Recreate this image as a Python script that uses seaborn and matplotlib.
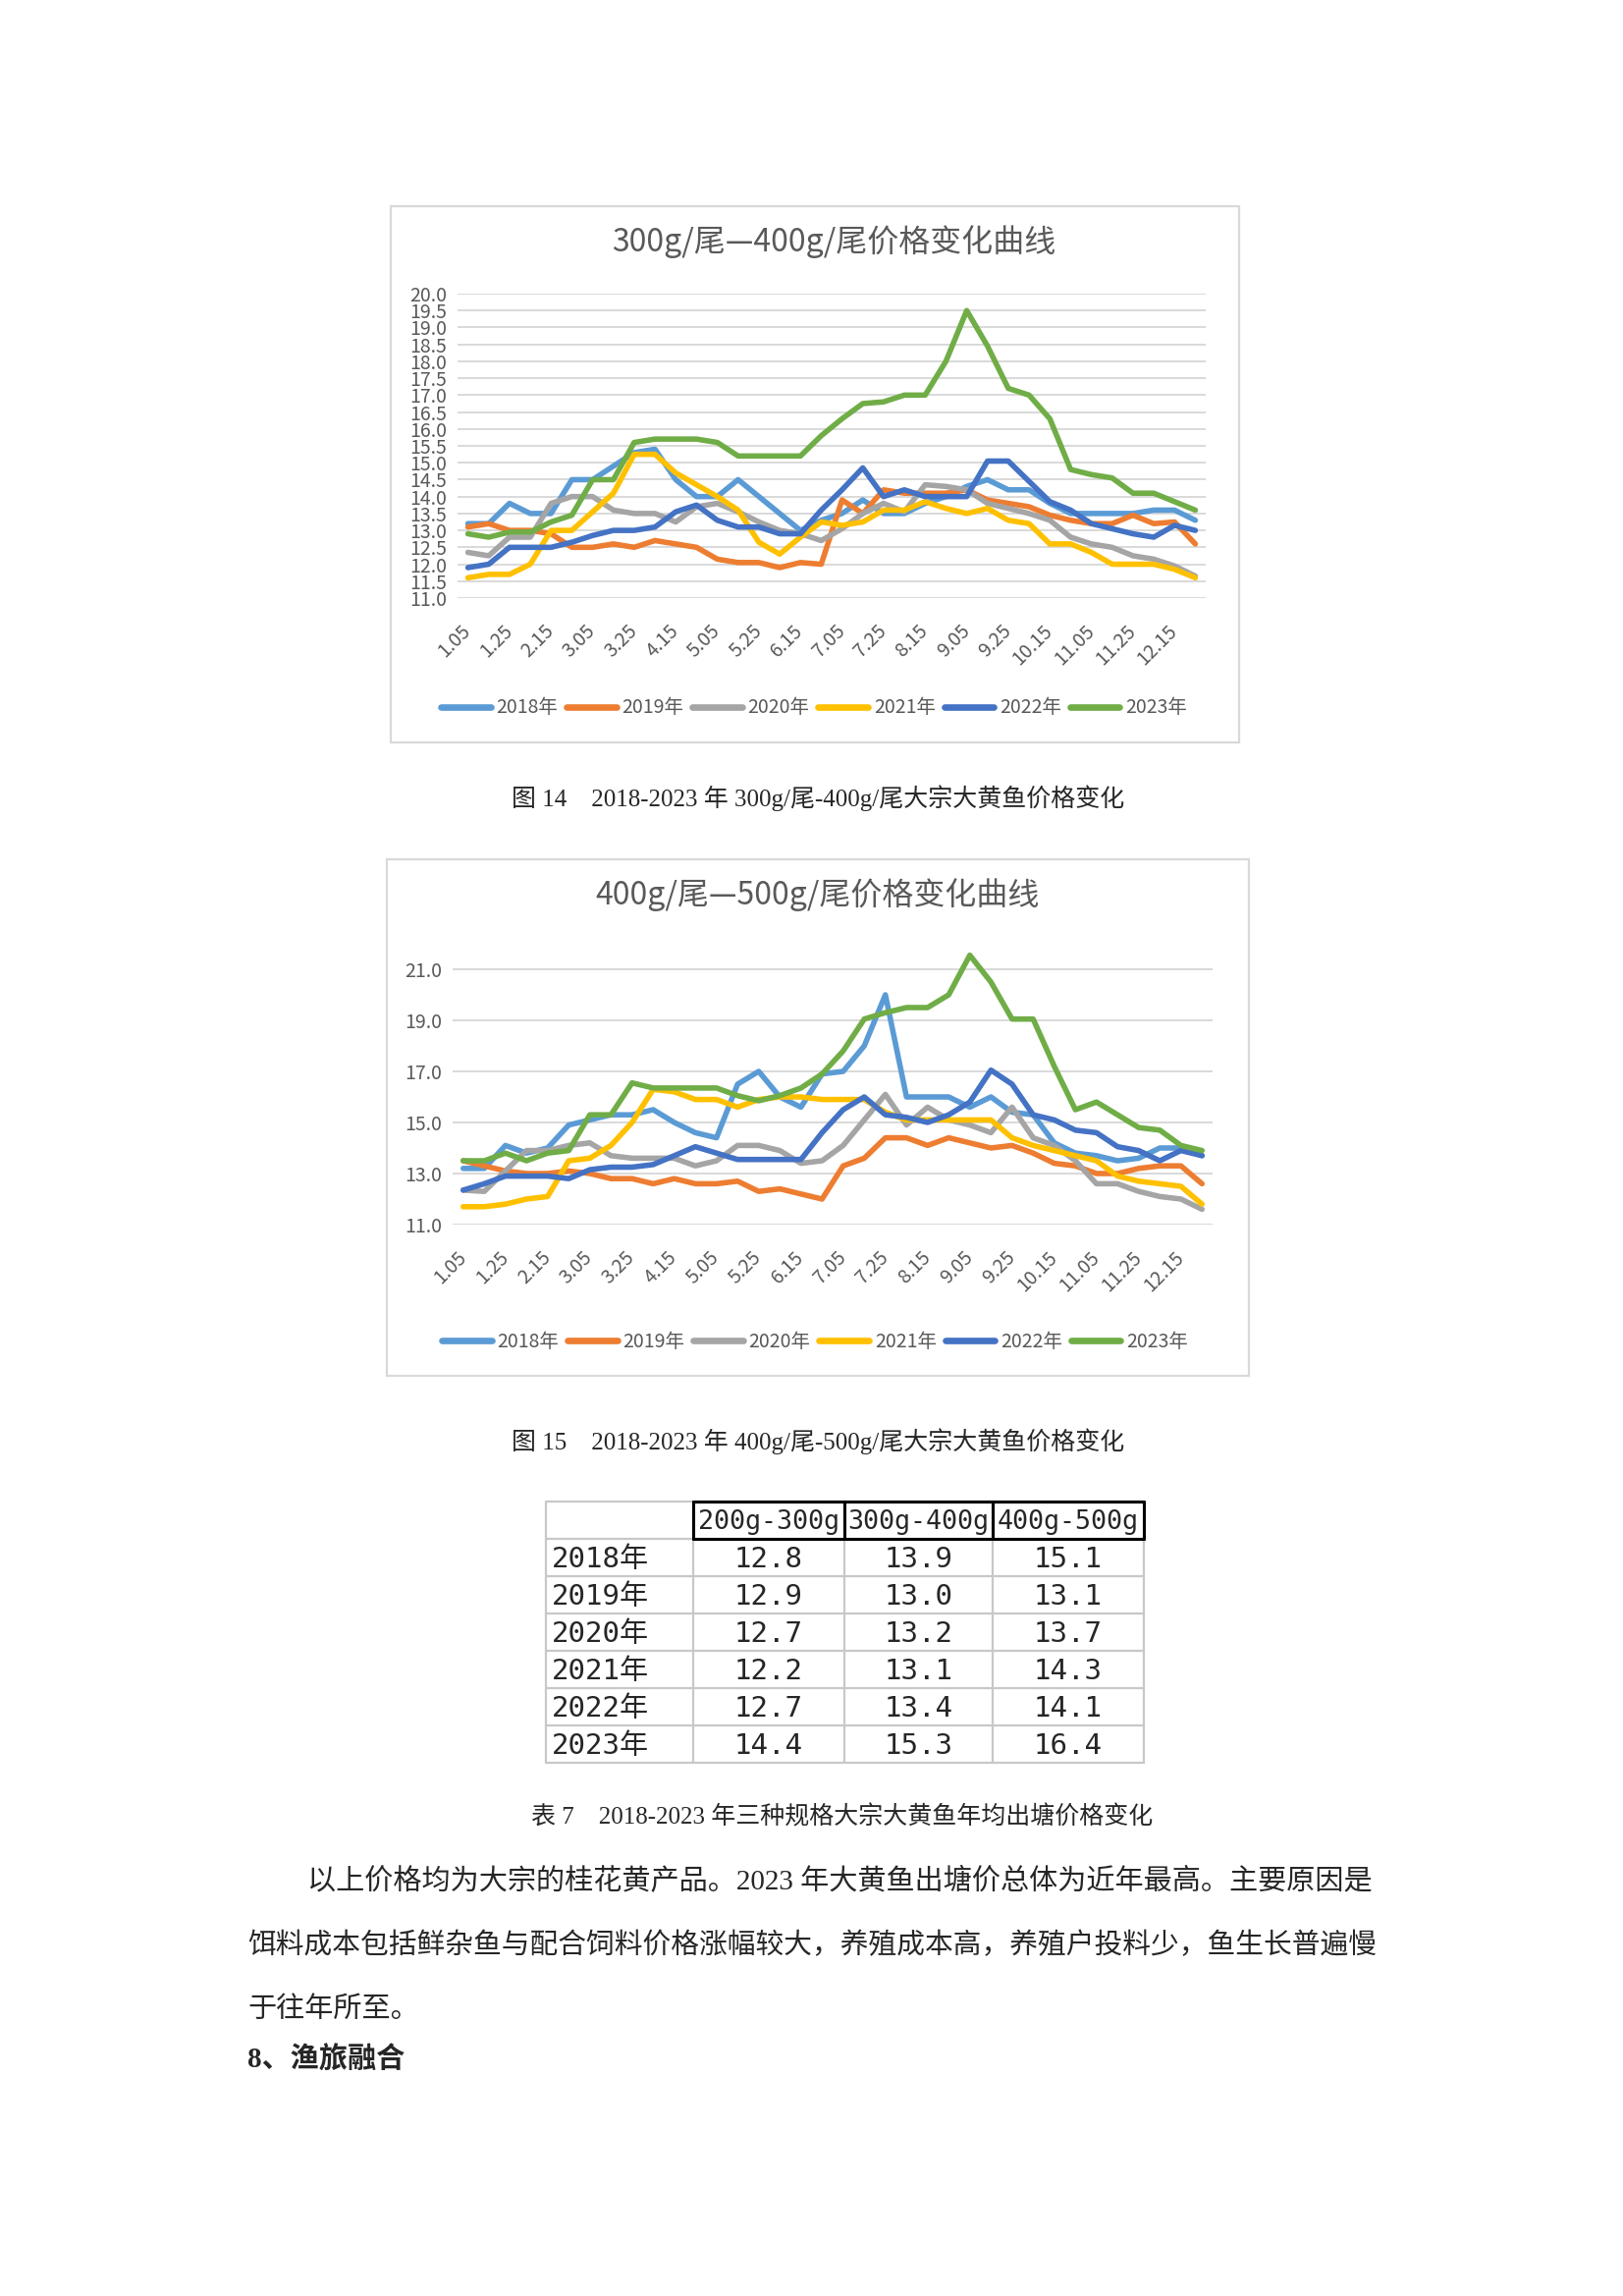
import numpy as np
import pandas as pd
import matplotlib
matplotlib.use('Agg')
import matplotlib.pyplot as plt
import seaborn as sns
from matplotlib.patches import Rectangle

W, H, DPI = 1653, 2338, 200

# ---- categories ----
dates = ['1.05', '1.15', '1.25', '2.05', '2.15', '2.25', '3.05', '3.15', '3.25',
         '4.05', '4.15', '4.25', '5.05', '5.15', '5.25', '6.05', '6.15', '6.25',
         '7.05', '7.15', '7.25', '8.05', '8.15', '8.25', '9.05', '9.15', '9.25',
         '10.05', '10.15', '10.25', '11.05', '11.15', '11.25', '12.05', '12.15', '12.25']
tick_labels = ['1.05', '1.25', '2.15', '3.05', '3.25', '4.15', '5.05', '5.25', '6.15',
               '7.05', '7.25', '8.15', '9.05', '9.25', '10.15', '11.05', '11.25', '12.15']
years = ['2018年', '2019年', '2020年', '2021年', '2022年', '2023年']
colors = ['#5B9BD5', '#ED7D31', '#A5A5A5', '#FFC000', '#4472C4', '#70AD47']

# ---- 300g-400g per fish ----
p34_2018 = [13.2, 13.2, 13.8, 13.5, 13.5, 14.5, 14.5, 14.9, 15.3, 15.4, 14.5, 14.0, 14.0, 14.5, 14.0, 13.5, 13.0, 13.3,
            13.5, 13.9, 13.5, 13.5, 13.8, 14.0, 14.3, 14.5, 14.2, 14.2, 13.8, 13.5, 13.5, 13.5, 13.5, 13.6, 13.6, 13.3]
p34_2019 = [13.1, 13.2, 13.0, 13.0, 12.9, 12.5, 12.5, 12.6, 12.5, 12.7, 12.6, 12.5, 12.15, 12.05, 12.05, 11.9, 12.05, 12.0,
            13.9, 13.5, 14.2, 14.1, 14.1, 14.1, 14.2, 13.9, 13.8, 13.7, 13.45, 13.3, 13.2, 13.2, 13.45, 13.2, 13.25, 12.6]
p34_2020 = [12.35, 12.25, 12.8, 12.8, 13.8, 14.0, 14.0, 13.6, 13.5, 13.5, 13.25, 13.7, 13.8, 13.55, 13.25, 13.0, 12.9, 12.7,
            13.05, 13.5, 13.8, 13.55, 14.35, 14.3, 14.2, 13.8, 13.65, 13.5, 13.3, 12.8, 12.6, 12.5, 12.25, 12.15, 11.95, 11.65]
p34_2021 = [11.6, 11.7, 11.7, 12.0, 13.0, 13.0, 13.55, 14.1, 15.25, 15.25, 14.7, 14.35, 14.0, 13.6, 12.65, 12.3, 12.8, 13.25,
            13.15, 13.25, 13.6, 13.6, 13.85, 13.65, 13.5, 13.65, 13.3, 13.2, 12.6, 12.6, 12.35, 12.0, 12.0, 12.0, 11.85, 11.6]
p34_2022 = [11.9, 12.0, 12.5, 12.5, 12.5, 12.65, 12.85, 13.0, 13.0, 13.1, 13.55, 13.75, 13.3, 13.1, 13.1, 12.9, 12.9, 13.6,
            14.2, 14.85, 14.0, 14.2, 14.0, 14.0, 14.0, 15.05, 15.05, 14.45, 13.85, 13.6, 13.2, 13.05, 12.9, 12.8, 13.15, 13.0]
p34_2023 = [12.9, 12.8, 12.95, 12.95, 13.25, 13.45, 14.5, 14.5, 15.6, 15.7, 15.7, 15.7, 15.6, 15.2, 15.2, 15.2, 15.2, 15.8,
            16.3, 16.75, 16.8, 17.0, 17.0, 18.0, 19.5, 18.45, 17.2, 17.0, 16.3, 14.8, 14.65, 14.55, 14.1, 14.1, 13.85, 13.6]

# ---- 400g-500g per fish ----
p45_2018 = [13.2, 13.2, 14.1, 13.8, 14.0, 14.9, 15.1, 15.3, 15.3, 15.5, 15.0, 14.6, 14.4, 16.5, 17.0, 16.0, 15.6, 16.9,
            17.0, 18.0, 20.0, 16.0, 16.0, 16.0, 15.6, 16.0, 15.4, 15.3, 14.2, 13.8, 13.7, 13.5, 13.6, 14.0, 14.0, 13.7]
p45_2019 = [13.5, 13.3, 13.1, 13.0, 13.0, 13.1, 13.0, 12.8, 12.8, 12.6, 12.8, 12.6, 12.6, 12.7, 12.3, 12.4, 12.2, 12.0,
            13.3, 13.6, 14.4, 14.4, 14.1, 14.4, 14.2, 14.0, 14.1, 13.8, 13.4, 13.3, 13.0, 13.0, 13.2, 13.3, 13.3, 12.6]
p45_2020 = [12.35, 12.3, 13.1, 13.9, 13.9, 14.1, 14.2, 13.7, 13.6, 13.6, 13.6, 13.3, 13.5, 14.1, 14.1, 13.9, 13.4, 13.5,
            14.1, 15.1, 16.1, 14.9, 15.6, 15.1, 14.9, 14.6, 15.6, 14.4, 14.1, 13.5, 12.6, 12.6, 12.3, 12.1, 12.0, 11.6]
p45_2021 = [11.7, 11.7, 11.8, 12.0, 12.1, 13.5, 13.6, 14.1, 15.0, 16.3, 16.2, 15.9, 15.9, 15.6, 15.9, 16.0, 16.0, 15.9,
            15.9, 15.9, 15.4, 15.1, 15.1, 15.1, 15.1, 15.1, 14.4, 14.1, 13.9, 13.7, 13.5, 12.9, 12.7, 12.6, 12.5, 11.8]
p45_2022 = [12.35, 12.6, 12.9, 12.9, 12.9, 12.8, 13.15, 13.25, 13.25, 13.35, 13.7, 14.05, 13.8, 13.55, 13.55, 13.55, 13.55, 14.6,
            15.5, 16.0, 15.3, 15.2, 15.0, 15.3, 15.8, 17.05, 16.5, 15.3, 15.1, 14.7, 14.6, 14.05, 13.9, 13.5, 13.9, 13.7]
p45_2023 = [13.5, 13.5, 13.8, 13.5, 13.8, 13.9, 15.3, 15.3, 16.55, 16.35, 16.35, 16.35, 16.35, 16.05, 15.85, 16.05, 16.35, 16.9,
            17.8, 19.05, 19.3, 19.5, 19.5, 20.0, 21.55, 20.5, 19.05, 19.05, 17.2, 15.5, 15.8, 15.3, 14.8, 14.7, 14.1, 13.9]

# ---- table 7: yearly average ----
specs = ['200g-300g', '300g-400g', '400g-500g']
avg_200_300 = [12.8, 12.9, 12.7, 12.2, 12.7, 14.4]
avg_300_400 = [13.9, 13.0, 13.2, 13.1, 13.4, 15.3]
avg_400_500 = [15.1, 13.1, 13.7, 14.3, 14.1, 16.4]

sns.set_style('white')
plt.rcParams['font.family'] = ['Noto Sans CJK SC', 'DejaVu Sans']
SERIF = ['Liberation Serif', 'Noto Sans CJK SC']
MONO = ['DejaVu Sans Mono', 'Noto Sans CJK SC']
GREY = '#595959'

fig = plt.figure(figsize=(W / DPI, H / DPI), dpi=DPI)
page = fig.add_axes([0, 0, 1, 1])
page.set_xlim(0, W)
page.set_ylim(H, 0)
page.axis('off')


def px_rect(x0, y0, x1, y1):
    return [x0 / W, 1 - y1 / H, (x1 - x0) / W, (y1 - y0) / H]


def long_df(series):
    rows = []
    for yr, vals in zip(years, series):
        for i, v in enumerate(vals):
            rows.append((i, dates[i], v, yr))
    return pd.DataFrame(rows, columns=['pos', 'date', 'price', 'year'])


def draw_chart(ax_px, box_px, title, title_xy, series, ylim, yticks, legend_xy):
    page.add_patch(Rectangle((box_px[0], box_px[1]), box_px[2] - box_px[0], box_px[3] - box_px[1],
                             fill=False, ec='#D9D9D9', lw=0.8))
    page.text(title_xy[0], title_xy[1], title, ha='center', va='center', fontsize=11.5, color=GREY)
    ax = fig.add_axes(px_rect(*ax_px))
    ax.set_facecolor('none')
    sns.lineplot(data=long_df(series), x='pos', y='price', hue='year', palette=colors,
                 linewidth=2.0, ax=ax)
    ax.set_xlim(-0.5, 35.5)
    ax.set_ylim(*ylim)
    ax.set_yticks(yticks)
    ax.set_yticklabels([f'{v:.1f}' for v in yticks], fontsize=7, color=GREY)
    ax.set_xticks(range(0, 36, 2))
    ax.set_xticklabels(tick_labels, rotation=45, ha='right', va='center',
                       rotation_mode='anchor', fontsize=7, color=GREY)
    ax.tick_params(length=0, pad=4)
    ax.tick_params(axis='x', pad=11)
    ax.set_xlabel('')
    ax.set_ylabel('')
    ax.yaxis.grid(True, color='#D9D9D9', lw=0.7)
    ax.set_axisbelow(True)
    sns.despine(ax=ax, left=True, bottom=True)
    sns.move_legend(ax, 'center', bbox_to_anchor=(legend_xy[0] / W, 1 - legend_xy[1] / H),
                    bbox_transform=fig.transFigure, ncol=6, frameon=False, title=None,
                    fontsize=7, handlelength=2.6, handletextpad=0.3, columnspacing=0.45,
                    labelcolor=GREY)
    for h in ax.get_legend().legend_handles:
        h.set_linewidth(2.4)
    return ax


draw_chart((466, 299, 1228, 609), (398, 210, 1262, 756), '300g/尾—400g/尾价格变化曲线', (849, 246),
           [p34_2018, p34_2019, p34_2020, p34_2021, p34_2022, p34_2023],
           (11, 20), np.arange(11, 20.01, 0.5), (829, 721))
draw_chart((461, 961, 1235, 1247), (394, 875, 1272, 1401), '400g/尾—500g/尾价格变化曲线', (833, 911),
           [p45_2018, p45_2019, p45_2020, p45_2021, p45_2022, p45_2023],
           (11, 22), np.arange(11, 21.01, 2), (830, 1366))

# captions
page.text(833, 813, '图 14　2018-2023 年 300g/尾-400g/尾大宗大黄鱼价格变化', ha='center', va='center',
          fontsize=9, family=SERIF)
page.text(833, 1468, '图 15　2018-2023 年 400g/尾-500g/尾大宗大黄鱼价格变化', ha='center', va='center',
          fontsize=9, family=SERIF)

# table 7
col_x = [556, 706, 860, 1011, 1165]
row_y = [1529, 1567, 1605, 1643, 1681, 1719, 1757, 1795]
for x in col_x:
    page.plot([x, x], [row_y[0], row_y[-1]], color='#C8C8C8', lw=0.8)
for y in row_y:
    page.plot([col_x[0], col_x[-1]], [y, y], color='#C8C8C8', lw=0.8)
for y in row_y[:2]:
    page.plot([col_x[1], col_x[-1]], [y, y], color='black', lw=1.1)
for x in col_x[1:]:
    page.plot([x, x], [row_y[0], row_y[1]], color='black', lw=1.1)
for j, s in enumerate(specs):
    page.text((col_x[j + 1] + col_x[j + 2]) / 2, (row_y[0] + row_y[1]) / 2 + 2, s, ha='center', va='center',
              fontsize=9.6, family=MONO)
cols = [avg_200_300, avg_300_400, avg_400_500]
for i, yr in enumerate(years):
    yc = (row_y[i + 1] + row_y[i + 2]) / 2 + 2
    page.text(col_x[0] + 6, yc, yr, ha='left', va='center', fontsize=10.5, family=MONO)
    for j, vals in enumerate(cols):
        page.text((col_x[j + 1] + col_x[j + 2]) / 2, yc, f'{vals[i]:.1f}', ha='center', va='center',
                  fontsize=10.5, family=MONO)
page.text(858, 1850, '表 7　2018-2023 年三种规格大宗大黄鱼年均出塘价格变化', ha='center', va='center',
          fontsize=9, family=SERIF)

# body text
page.text(313, 1916, '以上价格均为大宗的桂花黄产品。2023 年大黄鱼出塘价总体为近年最高。主要原因是',
          ha='left', va='center', fontsize=10.5, family=SERIF)
page.text(252, 1981, '饵料成本包括鲜杂鱼与配合饲料价格涨幅较大，养殖成本高，养殖户投料少，鱼生长普遍慢',
          ha='left', va='center', fontsize=10.35, family=SERIF)
page.text(252, 2046, '于往年所至。', ha='left', va='center', fontsize=10.5, family=SERIF)
page.text(252, 2098, '8、渔旅融合', ha='left', va='center', fontsize=10.5, family=SERIF, weight='bold')

fig.savefig('out.png', dpi=DPI)
